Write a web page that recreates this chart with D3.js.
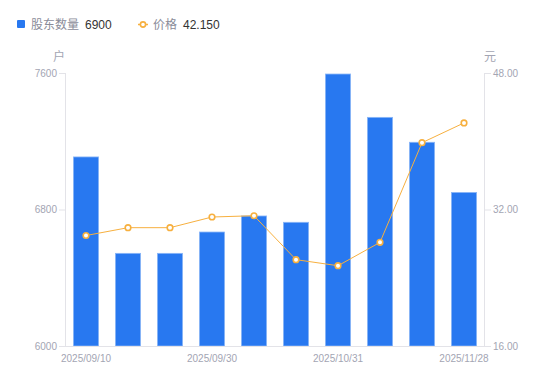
<!DOCTYPE html>
<html>
<head>
<meta charset="utf-8">
<script src="https://cdn.jsdelivr.net/npm/d3@7"></script>
<style>
  body { margin: 0; background: #fff; }
  svg text { font-family: "Liberation Sans", "Noto Sans CJK SC", sans-serif; }
</style>
</head>
<body>
<div id="chart"></div>
<script>
var dates = ['2025/09/10', '2025/09/19', '2025/09/26', '2025/09/30', '2025/10/10',
             '2025/10/20', '2025/10/31', '2025/11/10', '2025/11/20', '2025/11/28'];
var holders = [7108, 6543, 6543, 6668, 6762, 6725, 7594, 7340, 7194, 6900];
var prices = [28.95, 29.87, 29.87, 31.12, 31.27, 26.12, 25.41, 28.15, 39.83, 42.15];
var leftTicks = [6000, 6800, 7600];
var rightTicks = [16, 32, 48];
var shownDates = ['2025/09/10', '2025/09/30', '2025/10/31', '2025/11/28'];

chartMain();

function chartMain() {
  var w = 550, h = 381;
  var left = 65, right = 485, top = 73, bottom = 346;
  var barColor = '#2878f0';
  var lineColor = '#f7b03f';
  var axisColor = '#e3e3e8';
  var labelColor = '#a3a5b3';
  var cjk = '"Noto Sans CJK SC", sans-serif';

  var svg = d3.select('#chart').append('svg')
    .attr('width', w)
    .attr('height', h);

  var x = d3.scaleBand().domain(dates).range([left, right]).paddingInner(0.4).paddingOuter(0.2);
  var xc = d3.scaleBand().domain(dates).range([left, right]);
  var yL = d3.scaleLinear().domain([6000, 7600]).range([bottom, top]);
  var yR = d3.scaleLinear().domain([16, 48]).range([bottom, top]);

  // bars
  svg.selectAll('rect.bar')
    .data(holders)
    .enter()
    .append('rect')
    .attr('class', 'bar')
    .attr('x', function(d, i) { return x(dates[i]); })
    .attr('y', function(d) { return yL(d); })
    .attr('width', x.bandwidth())
    .attr('height', function(d) { return bottom - yL(d); })
    .attr('fill', barColor)
    .attr('stroke', '#8ab6f7')
    .attr('stroke-width', 0.8);

  // left axis
  var gl = svg.append('g').attr('transform', 'translate(' + left + ',0)')
    .call(d3.axisLeft(yL).tickValues(leftTicks).tickSize(6).tickPadding(2).tickFormat(d3.format('d')));
  gl.select('.domain').attr('stroke', axisColor).attr('d', 'M0.5,' + top + 'V' + bottom);
  gl.selectAll('.tick line').attr('stroke', axisColor);
  gl.selectAll('.tick text').attr('fill', labelColor).attr('font-size', 10);

  // right axis
  var gr = svg.append('g').attr('transform', 'translate(' + right + ',0)')
    .call(d3.axisRight(yR).tickValues(rightTicks).tickSize(6).tickPadding(2).tickFormat(d3.format('.2f')));
  gr.select('.domain').attr('stroke', axisColor).attr('d', 'M-0.5,' + top + 'V' + bottom);
  gr.selectAll('.tick line').attr('stroke', axisColor);
  gr.selectAll('.tick text').attr('fill', labelColor).attr('font-size', 10);

  // bottom axis
  var gb = svg.append('g').attr('transform', 'translate(0,' + bottom + ')')
    .call(d3.axisBottom(xc).tickValues(shownDates).tickSize(0).tickPadding(8.5));
  gb.select('.domain').attr('stroke', axisColor).attr('d', 'M' + left + ',0.5H' + right);
  gb.selectAll('.tick text').attr('fill', labelColor).attr('font-size', 10);
  svg.selectAll('g').attr('font-family', null);

  // axis names
  svg.append('text').attr('x', 59).attr('y', 61).attr('text-anchor', 'middle')
    .attr('font-size', 12).attr('fill', labelColor).style('font-family', cjk).text('户');
  svg.append('text').attr('x', 490).attr('y', 61).attr('text-anchor', 'middle')
    .attr('font-size', 12).attr('fill', labelColor).style('font-family', cjk).text('元');

  // price line
  var line = d3.line()
    .x(function(d, i) { return xc(dates[i]) + xc.bandwidth() / 2; })
    .y(function(d) { return yR(d); });
  svg.append('path')
    .datum(prices)
    .attr('d', line)
    .attr('fill', 'none')
    .attr('stroke', lineColor)
    .attr('stroke-width', 1);

  svg.selectAll('circle.pt')
    .data(prices)
    .enter()
    .append('circle')
    .attr('class', 'pt')
    .attr('cx', function(d, i) { return xc(dates[i]) + xc.bandwidth() / 2; })
    .attr('cy', function(d) { return yR(d); })
    .attr('r', 2.8)
    .attr('fill', '#fff')
    .attr('stroke', lineColor)
    .attr('stroke-width', 1.6);

  // legend
  var lg = svg.append('g');
  lg.append('rect').attr('x', 17).attr('y', 20).attr('width', 8).attr('height', 8)
    .attr('rx', 1).attr('fill', barColor);
  lg.append('text').attr('x', 31).attr('y', 29).attr('font-size', 12)
    .attr('fill', '#8a8c99').style('font-family', cjk).text('股东数量');
  lg.append('text').attr('x', 85).attr('y', 29).attr('font-size', 12)
    .attr('fill', '#333').text(holders[holders.length - 1]);

  lg.append('line').attr('x1', 138).attr('x2', 148).attr('y1', 24.5).attr('y2', 24.5)
    .attr('stroke', lineColor).attr('stroke-width', 1.5);
  lg.append('circle').attr('cx', 143).attr('cy', 24.5).attr('r', 2.6)
    .attr('fill', '#fff').attr('stroke', lineColor).attr('stroke-width', 1.6);
  lg.append('text').attr('x', 153).attr('y', 29).attr('font-size', 12)
    .attr('fill', '#8a8c99').style('font-family', cjk).text('价格');
  lg.append('text').attr('x', 183).attr('y', 29).attr('font-size', 12)
    .attr('fill', '#333').text(d3.format('.3f')(prices[prices.length - 1]));
}
</script>
</body>
</html>
